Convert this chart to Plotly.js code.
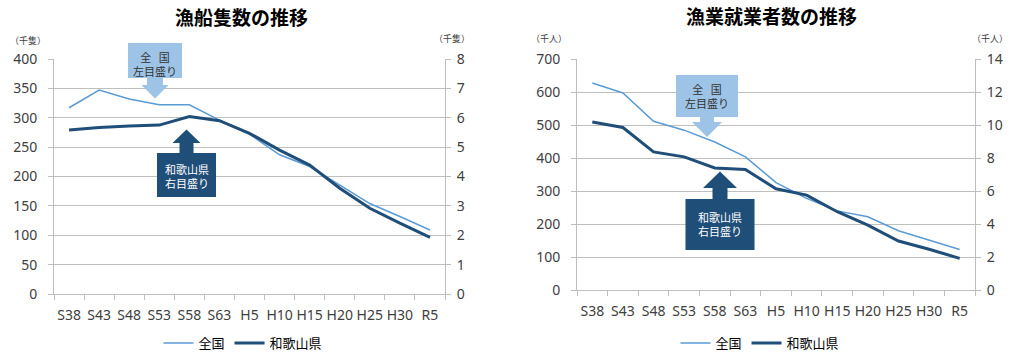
<!DOCTYPE html>
<html><head><meta charset="utf-8">
<script src="https://cdn.plot.ly/plotly-3.0.1.min.js"></script>
<style>html,body{margin:0;padding:0;background:#fff;}#c{width:1024px;height:358px;}</style>
</head><body><div id="c"></div>
<script>
const categories = ['S38','S43','S48','S53','S58','S63','H5','H10','H15','H20','H25','H30','R5'];
// 漁船隻数 (千隻)
const boatNational = [317, 347, 332, 322, 322, 296, 272, 237, 217, 185, 154, 132, 109];
const boatWakayama = [5.58, 5.67, 5.72, 5.75, 6.04, 5.90, 5.47, 4.90, 4.39, 3.60, 2.92, 2.41, 1.93];
// 漁業就業者数 (千人)
const workerNational = [628, 598, 512, 485, 449, 404, 326, 278, 240, 222, 180, 151, 123];
const workerWakayama = [10.2, 9.86, 8.38, 8.08, 7.41, 7.31, 6.14, 5.76, 4.75, 3.94, 2.97, 2.47, 1.92];
const seriesNames = ['全国', '和歌山県'];

const W = 1024, H = 358;
const px = x => x / W, py = y => 1 - y / H;
const LIGHT = '#5B9BD5', DARK = '#1F4E79', GRID = '#BFBFBF', TXT = '#404040';
const JP = '"Noto Sans CJK JP", "Noto Sans", sans-serif';
const NUM = '"Noto Sans", "Noto Sans CJK JP", sans-serif';

const traces = [
  {x: categories, y: boatNational, name: seriesNames[0], xaxis: 'x', yaxis: 'y', type: 'scatter', mode: 'lines', line: {color: LIGHT, width: 1.5}, legend: 'legend'},
  {x: categories, y: boatWakayama, name: seriesNames[1], xaxis: 'x', yaxis: 'y2', type: 'scatter', mode: 'lines', line: {color: DARK, width: 3}, legend: 'legend'},
  {x: categories, y: workerNational, name: seriesNames[0], xaxis: 'x2', yaxis: 'y3', type: 'scatter', mode: 'lines', line: {color: LIGHT, width: 1.5}, legend: 'legend2'},
  {x: categories, y: workerWakayama, name: seriesNames[1], xaxis: 'x2', yaxis: 'y4', type: 'scatter', mode: 'lines', line: {color: DARK, width: 3}, legend: 'legend2'}
];

function xax(d0, d1, anchor) {
  return {domain: [px(d0), px(d1)], anchor: anchor, type: 'category', range: [-0.5, 12.5],
    showgrid: false, showline: true, linecolor: GRID, linewidth: 1, ticks: 'outside', tickson: 'boundaries',
    ticklen: 5, tickcolor: GRID, tickangle: 0, automargin: false, ticklabelstandoff: 8,
    tickfont: {family: NUM, size: 14, color: TXT}, fixedrange: true};
}
function yax(top, bot, anchor, range, dtick, side, overlay, standoff) {
  const a = {domain: [py(bot), py(top)], anchor: anchor, range: range, dtick: dtick, side: side,
    showline: true, linecolor: GRID, linewidth: 1, ticks: 'outside', ticklen: 5, tickcolor: GRID,
    ticklabelstandoff: standoff,
    tickfont: {family: NUM, size: 14, color: TXT}, zeroline: false, fixedrange: true, automargin: false,
    showgrid: !overlay, gridcolor: GRID, gridwidth: 1};
  if (overlay) a.overlaying = overlay;
  return a;
}

function poly(pts) {
  return 'M' + pts.map(p => px(p[0]) + ',' + py(p[1])).join(' L') + ' Z';
}
function downArrow(x0, y0, x1, y1, sw, hw, hy, tip) {
  const c = (x0 + x1) / 2;
  return poly([[x0,y0],[x1,y0],[x1,y1],[c+sw,y1],[c+sw,hy],[c+hw,hy],[c,tip],[c-hw,hy],[c-sw,hy],[c-sw,y1],[x0,y1]]);
}
function upArrow(x0, y0, x1, y1, sw, hw, hy, tip) {
  const c = (x0 + x1) / 2;
  return poly([[x0,y1],[x1,y1],[x1,y0],[c+sw,y0],[c+sw,hy],[c+hw,hy],[c,tip],[c-hw,hy],[c-sw,hy],[c-sw,y0],[x0,y0]]);
}
const shapes = [
  {type: 'path', xref: 'paper', yref: 'paper', path: downArrow(128, 43, 182, 78, 8, 13.5, 85, 98.5), fillcolor: '#9DC3E6', line: {width: 0}, layer: 'above'},
  {type: 'path', xref: 'paper', yref: 'paper', path: upArrow(157, 153, 216, 197, 7, 14, 143, 129.5), fillcolor: DARK, line: {width: 0}, layer: 'above'},
  {type: 'path', xref: 'paper', yref: 'paper', path: downArrow(676, 75, 738, 117, 7, 15, 122, 137), fillcolor: '#9DC3E6', line: {width: 0}, layer: 'above'},
  {type: 'path', xref: 'paper', yref: 'paper', path: upArrow(685.5, 199, 754.5, 250, 7.5, 17, 188, 171.5), fillcolor: DARK, line: {width: 0}, layer: 'above'}
];

function note(text, x, y, size, color, bold, anchor) {
  return {text: bold ? '<b>' + text + '</b>' : text, x: px(x), y: py(y), xref: 'paper', yref: 'paper',
    xanchor: anchor || 'center', yanchor: 'middle', showarrow: false, align: 'center',
    font: {family: JP, size: size, color: color}};
}
const annotations = [
  note('漁船隻数の推移', 241, 17, 19, '#000', true),
  note('漁業就業者数の推移', 771, 16, 19, '#000', true),
  note('（千隻）', 27.5, 40, 9, TXT),
  note('（千隻）', 452, 39, 9, TXT),
  note('（千人）', 549, 39, 9, TXT),
  note('（千人）', 990, 39, 9, TXT),
  note('全\u00a0\u00a0\u00a0国<br>左目盛り', 155, 64, 11, '#333'),
  note('和歌山県<br>右目盛り', 186.5, 176, 11, '#fff'),
  note('全\u00a0\u00a0\u00a0国<br>左目盛り', 707, 96.5, 11, '#333'),
  note('和歌山県<br>右目盛り', 720, 224, 11, '#fff')
];

const layout = {
  width: W, height: H, margin: {l: 0, r: 0, t: 0, b: 0},
  paper_bgcolor: '#fff', plot_bgcolor: 'rgba(0,0,0,0)',
  xaxis: xax(54, 445, 'y'),
  xaxis2: xax(577, 975, 'y3'),
  yaxis: yax(59, 294, 'x', [0, 400], 50, 'left', null, 8),
  yaxis2: yax(59, 294, 'x', [0, 8], 1, 'right', 'y', 3),
  yaxis3: yax(59.3, 290, 'x2', [0, 700], 100, 'left', null, 8),
  yaxis4: yax(59.3, 290, 'x2', [0, 14], 2, 'right', 'y3', 3),
  legend: {orientation: 'h', x: px(243), y: py(343), xanchor: 'center', yanchor: 'middle',
    font: {family: JP, size: 13, color: '#000'}, bgcolor: 'rgba(0,0,0,0)', tracegroupgap: 0},
  legend2: {orientation: 'h', x: px(760), y: py(343), xanchor: 'center', yanchor: 'middle',
    font: {family: JP, size: 13, color: '#000'}, bgcolor: 'rgba(0,0,0,0)', tracegroupgap: 0},
  shapes: shapes,
  annotations: annotations,
  showlegend: true
};
Plotly.newPlot('c', traces, layout, {displayModeBar: false, staticPlot: true});
</script></body></html>
